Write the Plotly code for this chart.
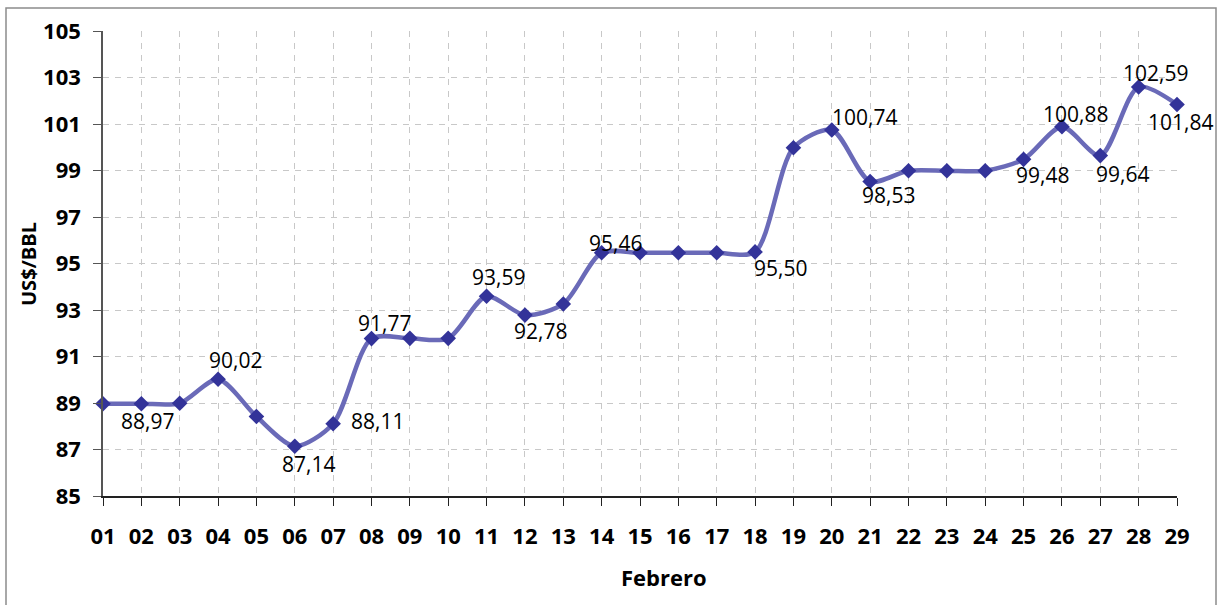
import plotly.graph_objects as go

# ---- data ----
days = ["01", "02", "03", "04", "05", "06", "07", "08", "09", "10",
        "11", "12", "13", "14", "15", "16", "17", "18", "19", "20",
        "21", "22", "23", "24", "25", "26", "27", "28", "29"]
prices = [88.97, 88.97, 88.99, 90.02, 88.42, 87.14, 88.11, 91.77, 91.78, 91.78,
          93.59, 92.78, 93.26, 95.46, 95.46, 95.46, 95.46, 95.50, 99.98, 100.74,
          98.53, 98.99, 98.99, 98.99, 99.48, 100.88, 99.64, 102.59, 101.84]
labeled_days = ["02", "04", "06", "07", "08", "11", "12", "14", "18", "20",
                "21", "25", "26", "27", "28", "29"]

y_title = "US$/BBL"
x_title = "Febrero"

# ---- label placement (pixel offsets: dx right, dy up) ----
label_offsets = {
    "02": (6, -17), "04": (17, 19), "06": (14, -18), "07": (44, 3),
    "08": (13, 16), "11": (12, 19), "12": (16, -16), "14": (14, 10),
    "18": (25, -16), "20": (33, 13), "21": (18, -14), "25": (19, -16),
    "26": (14, 13), "27": (22, -18), "28": (17, 14), "29": (3, -18),
}

FONT = "Open Sans"

fig = go.Figure()
fig.add_trace(go.Scatter(
    x=days, y=prices, mode="lines+markers",
    line=dict(color="#6A6AB8", width=4.5, shape="spline", smoothing=0.8),
    marker=dict(symbol="diamond", size=12, color="#333399",
                line=dict(width=0)),
    cliponaxis=False, showlegend=False, hoverinfo="x+y",
))

annotations = []
for d in labeled_days:
    i = days.index(d)
    v = prices[i]
    dx, dy = label_offsets[d]
    annotations.append(dict(
        x=i, y=v, xref="x", yref="y",
        text=f"{v:.2f}".replace(".", ","), showarrow=False,
        xanchor="center", yanchor="middle", xshift=dx, yshift=dy,
        font=dict(family=FONT, size=21, color="#000000"),
    ))

# x-axis title (slightly right of centre as in the reference)
annotations.append(dict(
    x=(664 - 103) / 1074, y=-(577 - 496) / 465, xref="paper", yref="paper",
    text=f"<b>{x_title}</b>", showarrow=False, xanchor="center", yanchor="middle",
    font=dict(family=FONT, size=22, color="#000000"),
))
# y-axis title
annotations.append(dict(
    x=(28 - 103) / 1074, y=(496 - 264) / 465, xref="paper", yref="paper",
    text=f"<b>{y_title}</b>", showarrow=False, xanchor="center", yanchor="middle",
    textangle=-90, font=dict(family=FONT, size=20, color="#000000"),
))

fig.update_layout(
    width=1228, height=605, autosize=False,
    margin=dict(l=103, r=51, t=31, b=109),
    paper_bgcolor="white", plot_bgcolor="white",
    font=dict(family=FONT, color="#000000"),
    annotations=annotations,
    shapes=[dict(type="rect", xref="paper", yref="paper",
                 x0=(6 - 103) / 1074, x1=(1216 - 103) / 1074,
                 y0=-0.5, y1=1 + (31 - 8) / 465,
                 line=dict(color="#8C8C8C", width=1.5), layer="below")],
    xaxis=dict(
        type="category", range=[0, len(days) - 1],
        showgrid=True, gridcolor="#C8C8C8", griddash="6px,6px", gridwidth=1,
        showline=True, linecolor="#222222", linewidth=1.5,
        ticks="outside", ticklen=8, tickcolor="#222222",
        ticklabelstandoff=12,
        tickfont=dict(family=FONT, size=22, color="#000000", weight="bold"),
        zeroline=False,
    ),
    yaxis=dict(
        range=[85, 105], dtick=2, tick0=85,
        showgrid=True, gridcolor="#C8C8C8", griddash="6px,6px", gridwidth=1,
        showline=True, linecolor="#555555", linewidth=1.5,
        ticks="outside", ticklen=8, tickcolor="#555555",
        ticklabelstandoff=8,
        tickfont=dict(family=FONT, size=22, color="#000000", weight="bold"),
        zeroline=False,
    ),
)

fig.write_html("out.html", config={"displayModeBar": False},
               post_script="document.body.style.margin='0';document.body.style.overflow='hidden';")
